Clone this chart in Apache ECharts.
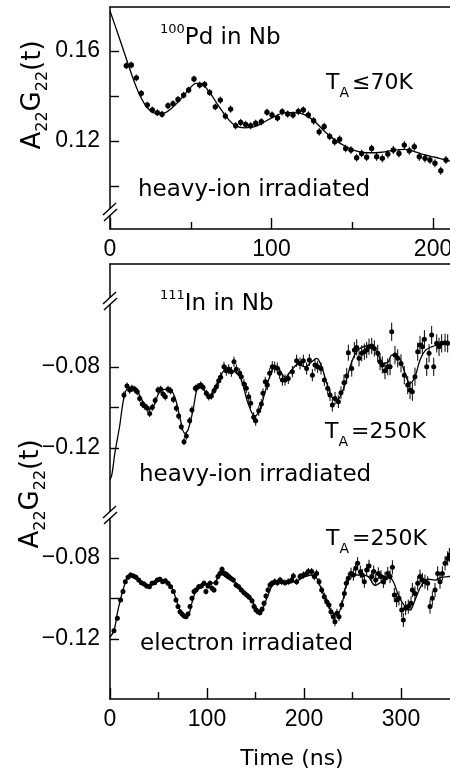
<!DOCTYPE html>
<html><head><meta charset="utf-8">
<script src="https://cdn.jsdelivr.net/npm/echarts@6/dist/echarts.min.js"></script>
<style>html,body{margin:0;padding:0;background:#fff}#c{width:450px;height:775px}</style>
</head><body><div id="c"></div>
<script>
// ---------------- DATA ----------------
// Top panel: 100Pd in Nb, heavy-ion irradiated, TA <= 70K  [time ns, A22G22, error]
const topPoints = [
[10.1,.1535,.0015],[13.2,.1538,.0015],[16.3,.1481,.0015],[19.4,.1412,.0015],[23.1,.1360,.0015],[26.2,.1338,.0015],
[29.3,.1326,.0015],[32.2,.1319,.0015],[35.9,.1357,.0015],[39.0,.1366,.0015],[42.1,.1385,.0015],[45.6,.1404,.0015],
[48.7,.1427,.0015],[52.0,.1476,.0015],[55.5,.1449,.0015],[58.6,.1452,.0015],[61.7,.1416,.0015],[65.2,.1352,.0015],
[68.3,.1382,.0016],[71.4,.1311,.0016],[74.7,.1342,.0016],[77.8,.1268,.0016],[80.9,.1283,.0016],[84.0,.1274,.0016],
[87.1,.1268,.0016],[90.2,.1279,.0016],[93.7,.1286,.0016],[97.2,.1328,.0016],[100.3,.1316,.0016],[103.7,.1303,.0016],
[106.6,.1330,.0016],[110.0,.1320,.0016],[113.3,.1316,.0016],[116.6,.1332,.0016],[119.7,.1338,.0016],[122.8,.1316,.0016],
[126.1,.1290,.0017],[129.5,.1241,.0017],[132.6,.1265,.0017],[136.0,.1220,.0017],[139.1,.1197,.0017],[142.2,.1208,.0017],
[145.9,.1167,.0017],[149.2,.1160,.0017],[152.7,.1126,.0017],[155.8,.1145,.0017],[158.9,.1128,.0017],[162.0,.1167,.0017],
[165.1,.1130,.0018],[168.6,.1123,.0018],[172.0,.1142,.0018],[175.4,.1160,.0018],[178.9,.1145,.0018],[182.2,.1182,.0018],
[185.3,.1157,.0018],[188.4,.1175,.0018],[191.5,.1130,.0018],[195.0,.1123,.0018],[198.1,.1116,.0018],[201.2,.1101,.0018],
[204.8,.1068,.0018],[208.0,.1116,.0018]
];
const topFit = [
[0,.1778],[5,.1675],[10,.1568],[15,.1464],[19.4,.1390],[23.5,.1345],[28.7,.1323],[32.8,.1323],[38,.1345],[44.2,.1390],
[49.3,.1434],[53.4,.1456],[57.6,.1449],[61.7,.1416],[66.9,.1360],[72,.1308],[77.2,.1271],[83.4,.1259],[89.6,.1264],
[95.8,.1286],[102,.1310],[108.4,.1326],[114.6,.1326],[120.7,.1316],[126.9,.1286],[133.1,.1241],[139.3,.1204],[145.5,.1178],
[151.7,.1157],[157.9,.1148],[164.1,.1148],[170.3,.1152],[176.5,.1160],[182.7,.1163],[188.9,.1152],[195,.1138],[201.2,.1128],
[207.4,.1116],[210.5,.1111]
];
// Middle panel: 111In in Nb, heavy-ion irradiated, TA = 250K
const midPoints = [
[14.4,-.0938,.0018],[17.5,-.0894,.0018],[20.3,-.0914,.0018],[22.7,-.0905,.0018],[25.5,-.0910,.0018],[28.1,-.0922,.0018],
[30.6,-.0955,.0018],[33.3,-.0983,.0018],[35.8,-.0993,.0018],[38.5,-.1004,.0018],[40.9,-.1029,.0018],[43.6,-.0999,.0018],
[46.5,-.0965,.0018],[49.5,-.0914,.0018],[52.3,-.0910,.0018],[54.6,-.0933,.0018],[57.0,-.0947,.0018],[59.8,-.0910,.0018],
[62.5,-.0917,.0018],[65.3,-.0960,.0018],[68.4,-.1004,.0018],[70.8,-.1042,.0018],[73.5,-.1095,.0018],[76.3,-.1169,.0018],
[78.7,-.1141,.0018],[82.1,-.1065,.0018],[84.5,-.1012,.0018],[88.0,-.0905,.0018],[90.7,-.0897,.0018],[93.5,-.0889,.0018],
[95.9,-.0900,.0018],[99.3,-.0930,.0018],[101.8,-.0947,.0018],[104.5,-.0943,.0018],[107.2,-.0917,.0018],[109.6,-.0897,.0018],
[112.0,-.0868,.0025],[114.1,-.0851,.0025],[117.5,-.0799,.0025],[119.9,-.0818,.0025],[122.4,-.0811,.0025],[125.1,-.0823,.0025],
[127.8,-.0774,.0025],[130.2,-.0811,.0025],[133.7,-.0831,.0025],[135.4,-.0848,.0025],[138.1,-.0884,.0025],[140.5,-.0905,.0025],
[143.0,-.0947,.0025],[145.0,-.0979,.0025],[148.1,-.1048,.0025],[150.2,-.1065,.0025],[153.3,-.1016,.0025],[156.0,-.0983,.0025],
[157.7,-.0930,.0025],[160.1,-.0873,.0025],[162.2,-.0889,.0025],[164.6,-.0831,.0025],[167.3,-.0799,.0028],[169.8,-.0801,.0028],
[172.5,-.0806,.0028],[174.9,-.0831,.0028],[177.7,-.0864,.0028],[180.4,-.0864,.0028],[183.8,-.0856,.0028],[188.0,-.0823,.0028],
[192.4,-.0769,.0030],[195.9,-.0782,.0030],[199.3,-.0769,.0030],[202.7,-.0807,.0030],[205.5,-.0765,.0030],[208.6,-.0840,.0030],
[211.3,-.0790,.0030],[214.1,-.0799,.0030],[217.5,-.0807,.0030],[221.0,-.0864,.0030],[224.4,-.0905,.0030],[226.8,-.0938,.0030],
[229.2,-.0988,.0032],[232.0,-.0955,.0032],[235.4,-.0971,.0032],[238.1,-.0927,.0032],[241.2,-.0878,.0040],[244.0,-.0844,.0040],
[245.7,-.0729,.0040],[249.2,-.0807,.0040],[251.9,-.0716,.0040],[254.3,-.0703,.0040],[256.7,-.0757,.0040],[259.5,-.0732,.0040],
[262.2,-.0724,.0040],[264.6,-.0716,.0040],[267.0,-.0700,.0040],[269.8,-.0696,.0040],[272.5,-.0708,.0040],[276.0,-.0732,.0042],
[278.4,-.0774,.0042],[280.7,-.0790,.0042],[283.5,-.0818,.0042],[286.3,-.0799,.0042],[288.7,-.0799,.0042],[290.4,-.0626,.0045],
[293.8,-.0741,.0045],[296.6,-.0757,.0045],[300.0,-.0782,.0045],[303.4,-.0840,.0045],[306.9,-.0889,.0045],[309.3,-.0914,.0045],
[311.7,-.0922,.0045],[314.4,-.0848,.0045],[317.2,-.0724,.0045],[319.6,-.0691,.0045],[322.0,-.0700,.0045],[324.1,-.0663,.0045],
[326.5,-.0799,.0045],[328.9,-.0732,.0045],[331.6,-.0642,.0045],[333.7,-.0799,.0045],[336.8,-.0683,.0045],[339.2,-.0700,.0045],
[341.9,-.0683,.0045],[345.4,-.0680,.0045],[348.1,-.0683,.0045]
];
const midFit = [
[0,-.1355],[2,-.1330],[5,-.1225],[10,-.1090],[14,-.0960],[17.8,-.0910],[23.7,-.0910],[28.9,-.0927],[34,-.0971],[39.9,-.1009],
[45.4,-.0988],[50.2,-.0930],[55.7,-.0910],[61.5,-.0910],[66.7,-.0947],[71.9,-.1045],[77,-.1127],[80.4,-.1111],[85.6,-.1012],
[90,-.0905],[94.1,-.0894],[98.2,-.0922],[102.8,-.0947],[107.9,-.0914],[113.1,-.0856],[118.2,-.0818],[125.1,-.0818],[130.2,-.0828],
[135.4,-.0864],[142.3,-.0979],[149.2,-.1042],[154.3,-.1012],[159.5,-.0930],[164.6,-.0848],[169.8,-.0795],[174.9,-.0815],
[180.4,-.0851],[187.3,-.0815],[194.1,-.0785],[201,-.0799],[207.9,-.0774],[213.1,-.0757],[218.2,-.0799],[223.4,-.0880],
[228.6,-.0947],[233.7,-.0963],[238.9,-.0930],[244,-.0856],[249.2,-.0774],[254.3,-.0724],[259.5,-.0703],[266.3,-.0696],
[272.5,-.0708],[276.6,-.0741],[281.8,-.0782],[286.9,-.0774],[290.4,-.0741],[295.6,-.0741],[300.7,-.0782],[305.9,-.0856],
[309.3,-.0880],[314.4,-.0848],[319.6,-.0765],[324.7,-.0720],[331.6,-.0700],[338.5,-.0691],[347.1,-.0686],[350.5,-.0686]
];
// Bottom panel: 111In in Nb, electron irradiated, TA = 250K
const botPoints = [
[4.1,-.1159,.0012],[7.6,-.1098,.0012],[10.9,-.1007,.0012],[13.4,-.0966,.0012],[15.8,-.0917,.0012],[18.6,-.0895,.0012],
[21.3,-.0884,.0012],[24.1,-.0889,.0012],[26.8,-.0895,.0012],[29.6,-.0909,.0012],[32.3,-.0922,.0012],[35.1,-.0928,.0012],
[37.8,-.0938,.0012],[40.6,-.0942,.0012],[43.3,-.0925,.0012],[46.0,-.0922,.0012],[48.8,-.0909,.0012],[51.5,-.0905,.0012],
[54.3,-.0917,.0012],[57.0,-.0912,.0012],[59.8,-.0925,.0012],[62.5,-.0942,.0012],[65.3,-.0966,.0012],[68.0,-.1007,.0012],
[70.1,-.1040,.0012],[72.2,-.1065,.0012],[74.2,-.1077,.0012],[76.3,-.1086,.0012],[78.4,-.1090,.0012],[80.4,-.1077,.0012],
[82.5,-.1040,.0012],[84.5,-.0999,.0012],[86.6,-.0966,.0012],[88.7,-.0958,.0012],[91.4,-.0942,.0014],[94.2,-.0938,.0014],
[96.9,-.0925,.0014],[98.9,-.0966,.0014],[101.0,-.0938,.0014],[103.1,-.0925,.0014],[105.2,-.0950,.0014],[107.2,-.0958,.0014],
[109.3,-.0922,.0014],[111.3,-.0892,.0014],[113.4,-.0876,.0014],[115.5,-.0856,.0014],[117.5,-.0876,.0014],[119.6,-.0884,.0014],
[121.6,-.0892,.0014],[124.4,-.0900,.0014],[127.1,-.0909,.0014],[129.9,-.0933,.0014],[132.6,-.0942,.0014],[135.4,-.0958,.0014],
[138.1,-.0971,.0014],[140.9,-.0983,.0014],[143.6,-.0994,.0014],[146.4,-.1011,.0014],[148.5,-.1040,.0014],[150.5,-.1057,.0014],
[152.6,-.1065,.0014],[154.6,-.1070,.0014],[156.7,-.1053,.0014],[158.8,-.1024,.0014],[160.8,-.0988,.0014],[162.9,-.0958,.0014],
[165.0,-.0933,.0014],[167.0,-.0925,.0014],[169.8,-.0917,.0016],[172.5,-.0922,.0016],[175.3,-.0909,.0016],[177.0,-.0917,.0016],
[180.4,-.0922,.0016],[183.8,-.0917,.0016],[187.3,-.0909,.0016],[189.0,-.0889,.0016],[192.4,-.0917,.0016],[195.9,-.0892,.0018],
[199.3,-.0884,.0018],[202.7,-.0876,.0018],[204.5,-.0867,.0018],[207.9,-.0867,.0018],[210.6,-.0892,.0018],[213.0,-.0876,.0018],
[215.5,-.0917,.0018],[218.2,-.0958,.0018],[220.9,-.0991,.0020],[223.4,-.1016,.0020],[225.7,-.1032,.0020],[227.8,-.1065,.0020],
[230.2,-.1090,.0020],[231.9,-.1115,.0022],[234.0,-.1073,.0022],[236.1,-.1090,.0022],[238.8,-.1032,.0022],[241.6,-.0975,.0025],
[243.6,-.0925,.0025],[245.7,-.0900,.0028],[248.5,-.0876,.0028],[250.9,-.0884,.0028],[253.3,-.0851,.0030],[255.3,-.0826,.0030],
[258.1,-.0868,.0030],[260.1,-.0884,.0030],[262.2,-.0917,.0030],[264.6,-.0859,.0030],[267.0,-.0839,.0030],[269.8,-.0892,.0030],
[271.8,-.0867,.0030],[273.9,-.0909,.0030],[276.6,-.0876,.0030],[279.4,-.0892,.0032],[281.8,-.0917,.0032],[283.5,-.0900,.0032],
[286.3,-.0876,.0032],[288.7,-.0892,.0032],[291.1,-.0846,.0035],[293.1,-.0983,.0035],[295.5,-.1007,.0035],[297.9,-.0999,.0035],
[300.7,-.1057,.0035],[302.4,-.1106,.0035],[304.8,-.1048,.0035],[307.5,-.1040,.0035],[310.3,-.1024,.0035],[311.7,-.0958,.0035],
[314.4,-.0975,.0035],[317.2,-.0925,.0035],[319.6,-.0892,.0035],[322.0,-.0909,.0035],[324.7,-.0917,.0035],[327.5,-.0925,.0035],
[329.9,-.1040,.0035],[332.3,-.0999,.0035],[335.1,-.0958,.0035],[337.8,-.0876,.0035],[340.2,-.0917,.0035],[342.6,-.0876,.0035],
[345.4,-.0826,.0035],[348.1,-.0802,.0035],[349.8,-.0785,.0035]
];
const botFit = [
[0,-.1190],[4.1,-.1159],[8.2,-.1057],[13.4,-.0958],[17.8,-.0900],[22,-.0884],[27.1,-.0900],[32.3,-.0925],[39.2,-.0942],
[46.1,-.0922],[52.9,-.0912],[59.8,-.0922],[64.9,-.0958],[70.1,-.1032],[75.3,-.1081],[80.4,-.1081],[83.8,-.1032],[87.9,-.0971],
[94.1,-.0942],[101,-.0925],[107.9,-.0922],[113.1,-.0876],[118.2,-.0868],[123.4,-.0884],[128.6,-.0917],[135.4,-.0958],
[142.3,-.0991],[149.2,-.1032],[154.3,-.1065],[157.7,-.1048],[162.9,-.0983],[168,-.0933],[174.9,-.0920],[180.4,-.0925],
[190.7,-.0917],[201,-.0892],[207.9,-.0884],[213.1,-.0900],[218.2,-.0958],[223.4,-.1016],[228.6,-.1065],[233.7,-.1081],
[238.9,-.1032],[244,-.0925],[249.2,-.0884],[259.5,-.0884],[266.3,-.0892],[273.2,-.0935],[280.1,-.0917],[286.9,-.0892],
[292.1,-.0917],[297.2,-.0983],[304.1,-.1040],[309.3,-.1057],[314.4,-.1007],[321.3,-.0933],[328.1,-.0905],[335.1,-.0909],
[341.9,-.0895],[348.8,-.0892],[350.5,-.0890]
];
// axis ranges and ticks
const topXRange = [0, 210.5];
const topXMajor = [0, 100, 200];
const topXMinor = [50, 150];
const topYRange = [0.0809, 0.1796];
const topYTicks = [0.10, 0.12, 0.14, 0.16];
const topYLabels = [0.12, 0.16];
const botXRange = [0, 350.5];
const botXMajor = [0, 100, 200, 300];
const botXMinor = [50, 150, 250];
const midYRange = [-0.1521, -0.0291];
const botYRange = [-0.1496, -0.0578];
const lowYTicks = [-0.12, -0.10, -0.08];
const lowYLabels = [-0.12, -0.08];

// ---------------- CHART ----------------
const NUM = "'Liberation Sans Narrow','Arial Narrow','Liberation Sans',sans-serif";
const TXT = "'DejaVu Sans',sans-serif";
const K = '#000';
const fmt = v => (v < 0 ? '\u2212' : '') + Math.abs(v).toFixed(2);

function xAxisDef(grid, range, opts) {
  return Object.assign({
    type: 'value', gridIndex: grid, min: range[0], max: range[1],
    axisLine: { show: false, onZero: false, lineStyle: { color: K, width: 1.5 } },
    axisTick: { show: false },
    axisLabel: { show: false },
    splitLine: { show: false }
  }, opts);
}
function yAxisDef(grid, range, ticks, labels) {
  return {
    type: 'value', gridIndex: grid, min: range[0], max: range[1],
    axisLine: { show: true, onZero: false, lineStyle: { color: K, width: 1.5 } },
    axisTick: { show: true, inside: true, length: 9, customValues: ticks, lineStyle: { color: K, width: 1.4 } },
    axisLabel: { show: true, customValues: labels, formatter: fmt, margin: 10, color: K, fontSize: 23, fontFamily: NUM },
    splitLine: { show: false }
  };
}
const line = { show: true, onZero: false, lineStyle: { color: K, width: 1.5 } };
const majTick = vals => ({ show: true, inside: true, length: 11, customValues: vals, lineStyle: { color: K, width: 1.4 } });
const minTick = vals => ({ show: true, inside: true, length: 7, customValues: vals, lineStyle: { color: K, width: 1.4 } });
const xLab = vals => ({ show: true, customValues: vals, margin: 9, color: K, fontSize: 23, fontFamily: NUM });

function pointsSeries(xi, yi, pts, r) {
  return {
    type: 'custom', xAxisIndex: xi, yAxisIndex: yi, data: pts, z: 5,
    renderItem: (params, api) => {
      const t = api.value(0), v = api.value(1), e = api.value(2);
      const p = api.coord([t, v]);
      const hi = api.coord([t, v + e]);
      const lo = api.coord([t, v - e]);
      return { type: 'group', children: [
        { type: 'line', shape: { x1: p[0], y1: hi[1], x2: p[0], y2: lo[1] }, style: { stroke: K, lineWidth: 1 } },
        { type: 'circle', shape: { cx: p[0], cy: p[1], r: r }, style: { fill: K } }
      ]};
    }
  };
}
function fitSeries(xi, yi, pts) {
  return { type: 'line', xAxisIndex: xi, yAxisIndex: yi, data: pts, smooth: 0.35, showSymbol: false, symbol: 'none',
    lineStyle: { color: K, width: 1.3 }, z: 4 };
}

const sub = { fontSize: 14, lineHeight: 14, verticalAlign: 'bottom', fontFamily: TXT, fill: K, padding: [0, 3, 0, 0] };
const mainT = { fontSize: 22, lineHeight: 34, fontFamily: TXT, fill: K };
function ann(x, y, text, rich, align) {
  return { type: 'text', x: x, y: y, z: 100, style: { text: text, rich: rich, fill: K, font: '23px ' + TXT, align: align || 'left', verticalAlign: 'middle' } };
}
function brk(cx, cy) {
  return [
    { type: 'rect', z: 99, shape: { x: cx - 2, y: cy - 3, width: 4, height: 6 }, style: { fill: '#fff' } },
    { type: 'line', z: 100, shape: { x1: cx - 7, y1: cy + 3, x2: cx + 6, y2: cy - 9 }, style: { stroke: K, lineWidth: 1.4 } },
    { type: 'line', z: 100, shape: { x1: cx - 6, y1: cy + 9, x2: cx + 7, y2: cy - 3 }, style: { stroke: K, lineWidth: 1.4 } }
  ];
}
const ylabRich = { m: { fontSize: 26, lineHeight: 36, fontFamily: TXT, fill: K }, s: { fontSize: 16, lineHeight: 16, verticalAlign: 'bottom', fontFamily: TXT, fill: K } };
const supRich = { sp: { fontSize: 13, lineHeight: 22, verticalAlign: 'top', fontFamily: TXT, fill: K }, m: { fontSize: 23, lineHeight: 30, fontFamily: TXT, fill: K } };

const option = {
  animation: false,
  backgroundColor: '#fff',
  grid: [
    { left: 110, top: 7, width: 340, height: 222, containLabel: false, outerBoundsMode: 'none' },
    { left: 110, top: 264, width: 340, height: 249, containLabel: false, outerBoundsMode: 'none' },
    { left: 110, top: 513, width: 340, height: 186, containLabel: false, outerBoundsMode: 'none' }
  ],
  xAxis: [
    xAxisDef(0, topXRange, { position: 'bottom', axisLine: line, axisTick: majTick(topXMajor), axisLabel: xLab(topXMajor) }),
    xAxisDef(0, topXRange, { position: 'bottom', axisTick: minTick(topXMinor) }),
    xAxisDef(0, topXRange, { position: 'top', axisLine: line }),
    xAxisDef(1, botXRange, { position: 'top', axisLine: line }),
    xAxisDef(2, botXRange, { position: 'bottom', axisLine: line, axisTick: majTick(botXMajor), axisLabel: xLab(botXMajor) }),
    xAxisDef(2, botXRange, { position: 'bottom', axisTick: minTick(botXMinor) })
  ],
  yAxis: [
    yAxisDef(0, topYRange, topYTicks, topYLabels),
    yAxisDef(1, midYRange, lowYTicks, lowYLabels),
    yAxisDef(2, botYRange, lowYTicks, lowYLabels)
  ],
  series: [
    fitSeries(0, 0, topFit), pointsSeries(0, 0, topPoints, 2.7),
    fitSeries(3, 1, midFit), pointsSeries(3, 1, midPoints, 2.5),
    fitSeries(4, 2, botFit), pointsSeries(4, 2, botPoints, 2.5)
  ],
  graphic: [].concat(
    brk(110, 212), brk(110, 301), brk(110, 515),
    [
      ann(160, 38, '{sp|100}{m|Pd in Nb}', supRich),
      ann(326, 83, '{m|T}{s|A}{m|\u226470K}', { m: mainT, s: sub }),
      ann(138, 190, 'heavy-ion irradiated'),
      ann(160, 304, '{sp|111}{m|In in Nb}', supRich),
      ann(325, 432, '{m|T}{s|A}{m|=250K}', { m: mainT, s: sub }),
      ann(139, 475, 'heavy-ion irradiated'),
      ann(326, 539, '{m|T}{s|A}{m|=250K}', { m: mainT, s: sub }),
      ann(140, 644, 'electron irradiated'),
      { type: 'text', x: 292, y: 759, z: 100, style: { text: 'Time (ns)', fill: K, font: '22px ' + TXT, align: 'center', verticalAlign: 'middle' } },
      { type: 'text', x: 33, y: 95, rotation: Math.PI / 2, z: 100, style: { text: '{m|A}{s|22}{m|G}{s|22}{m|(t)}', rich: ylabRich, fill: K, align: 'center', verticalAlign: 'middle' } },
      { type: 'text', x: 31, y: 494, rotation: Math.PI / 2, z: 100, style: { text: '{m|A}{s|22}{m|G}{s|22}{m|(t)}', rich: ylabRich, fill: K, align: 'center', verticalAlign: 'middle' } }
    ]
  )
};
const chart = echarts.init(document.getElementById('c'), null, { renderer: 'canvas' });
chart.setOption(option);
</script></body></html>
